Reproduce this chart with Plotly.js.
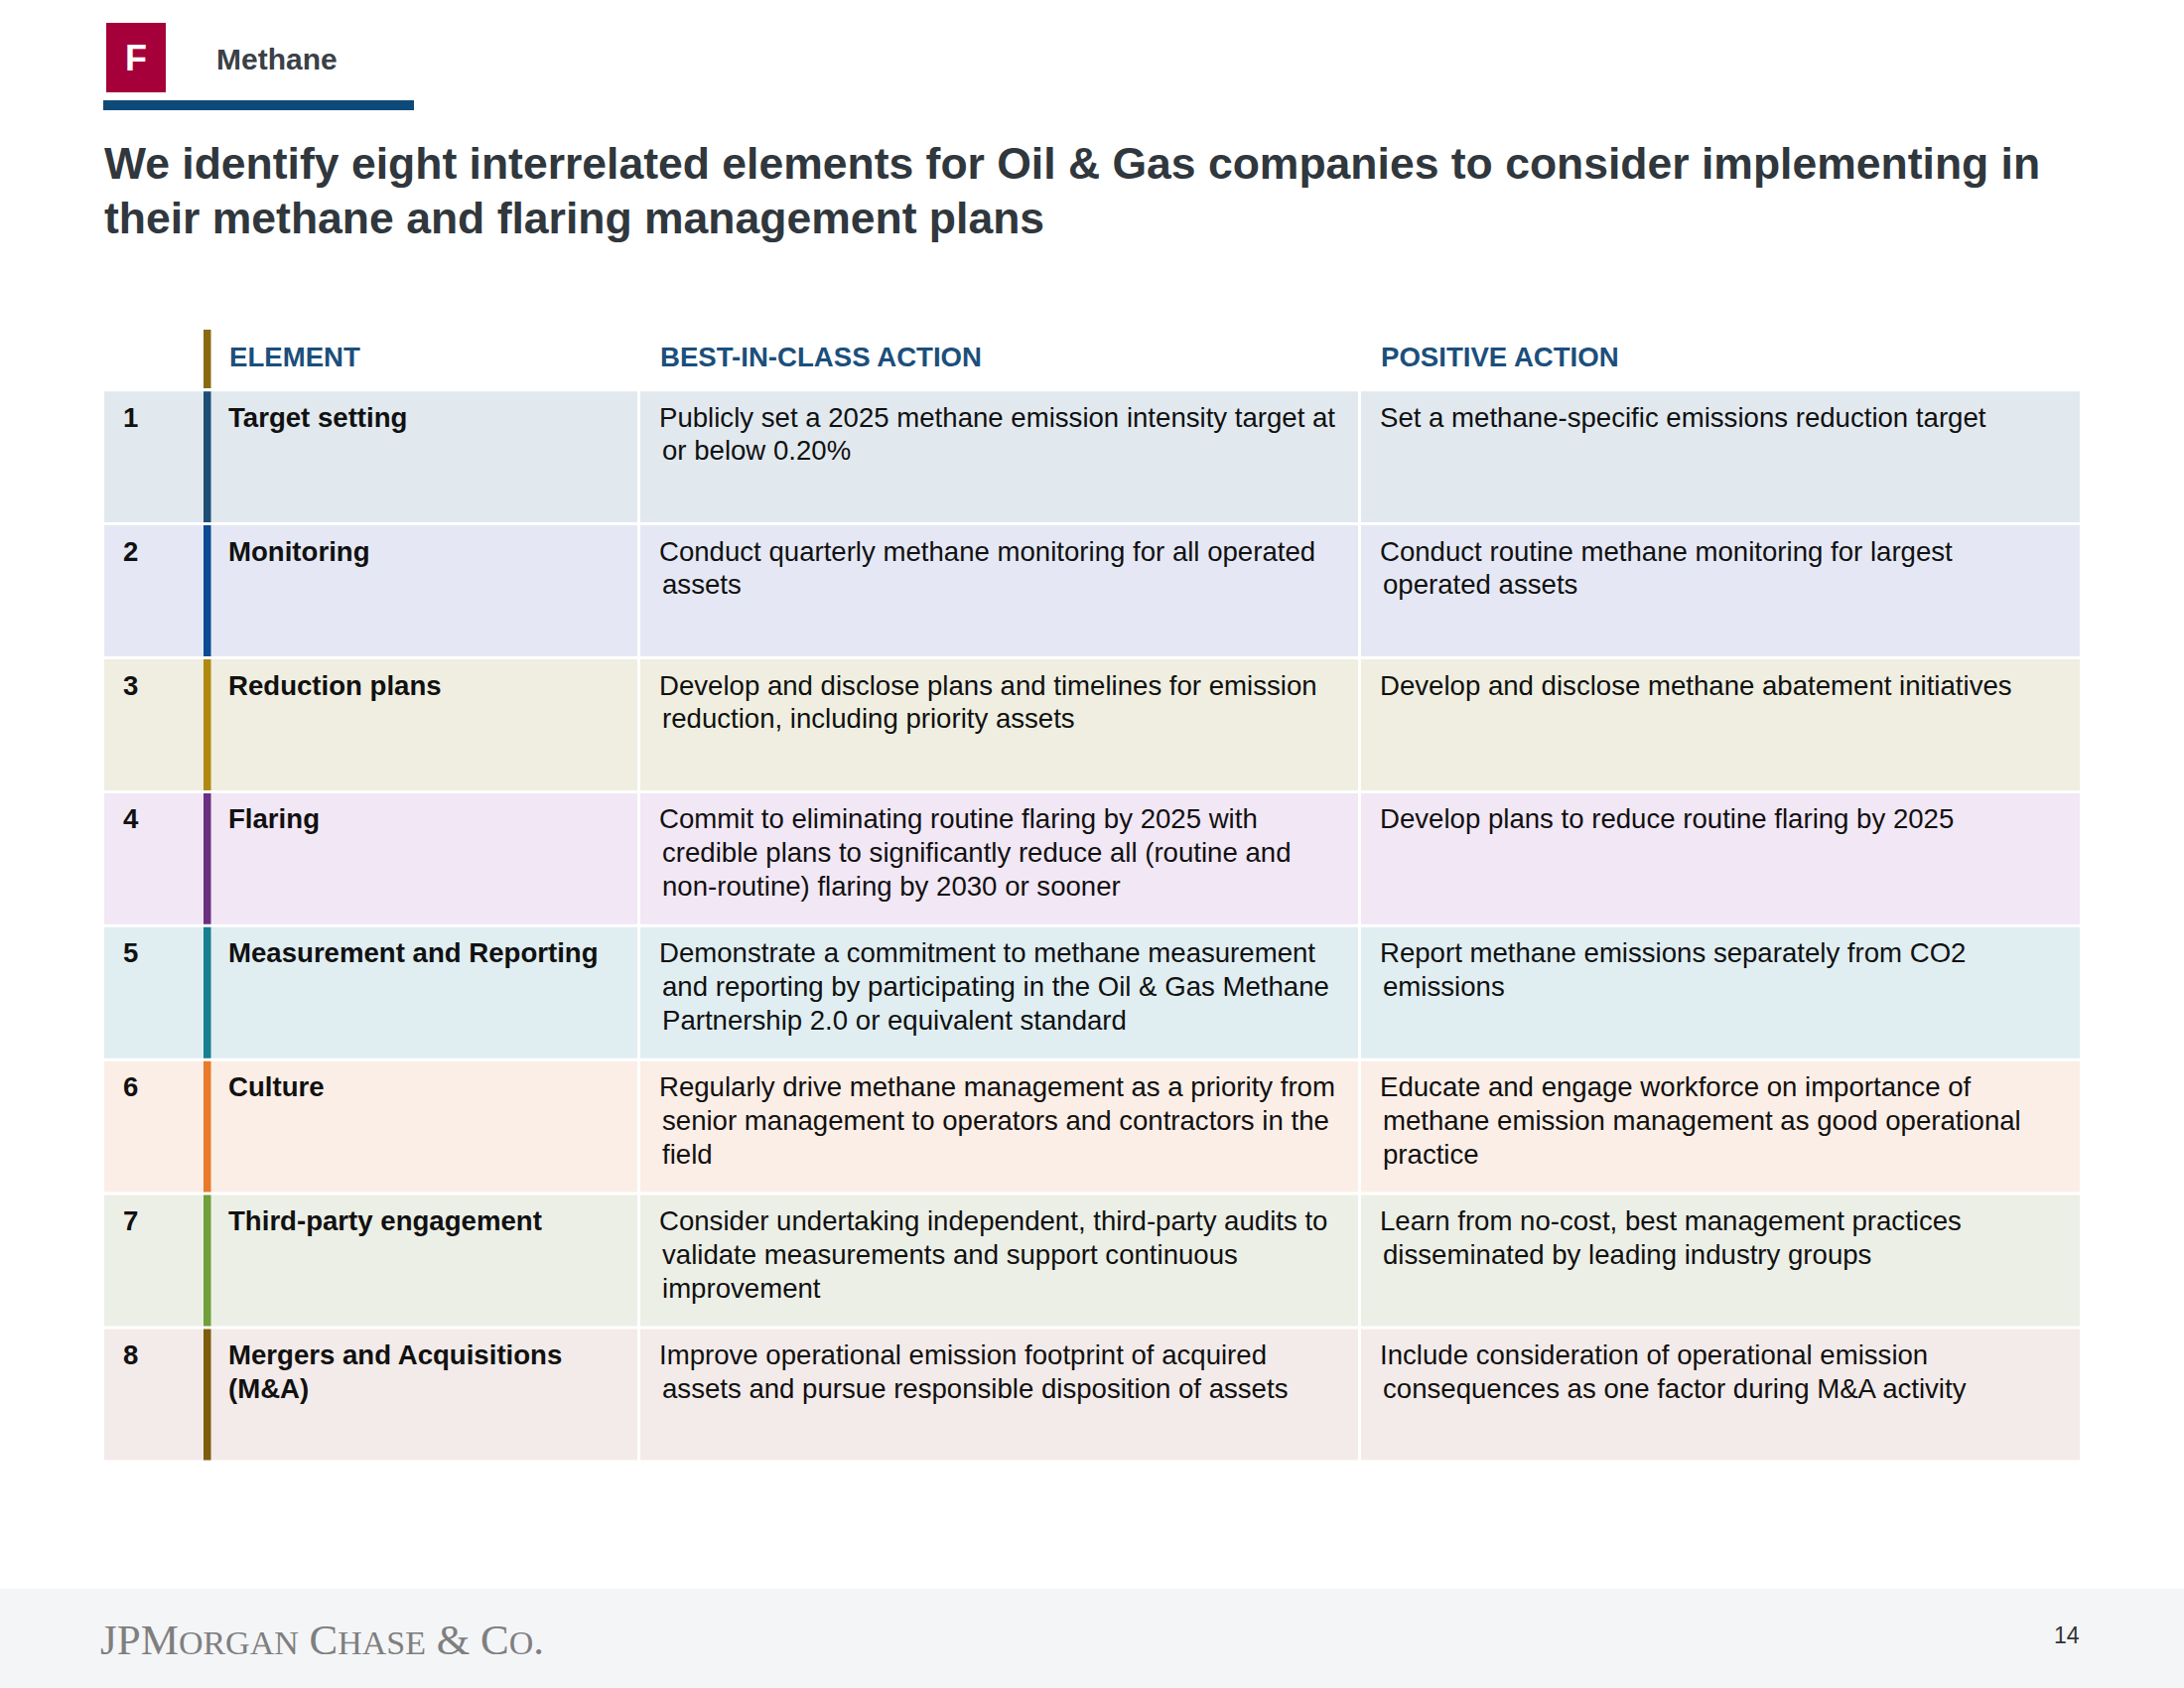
<!DOCTYPE html>
<html>
<head>
<meta charset="utf-8">
<script src="https://cdn.plot.ly/plotly-3.0.1.min.js"></script>
<style>html,body{margin:0;padding:0;background:#fff;}#chart{width:2200px;height:1700px;}</style>
</head>
<body>
<div id="chart"></div>
<script>
// ---------------- DATA ----------------
const sectionLetter = 'F';
const sectionName = 'Methane';
const titleLines = [
  'We identify eight interrelated elements for Oil & Gas companies to consider implementing in',
  'their methane and flaring management plans'
];
const headers = ['ELEMENT', 'BEST-IN-CLASS ACTION', 'POSITIVE ACTION'];
const rowNumbers = ['1', '2', '3', '4', '5', '6', '7', '8'];
const elements = [
  'Target setting',
  'Monitoring',
  'Reduction plans',
  'Flaring',
  'Measurement and Reporting',
  'Culture',
  'Third-party engagement',
  'Mergers and Acquisitions<br>(M&A)'
];
const bestActions = [
  'Publicly set a 2025 methane emission intensity target at<br>or below 0.20%',
  'Conduct quarterly methane monitoring for all operated<br>assets',
  'Develop and disclose plans and timelines for emission<br>reduction, including priority assets',
  'Commit to eliminating routine flaring by 2025 with<br>credible plans to significantly reduce all (routine and<br>non-routine) flaring by 2030 or sooner',
  'Demonstrate a commitment to methane measurement<br>and reporting by participating in the Oil & Gas Methane<br>Partnership 2.0 or equivalent standard',
  'Regularly drive methane management as a priority from<br>senior management to operators and contractors in the<br>field',
  'Consider undertaking independent, third-party audits to<br>validate measurements and support continuous<br>improvement',
  'Improve operational emission footprint of acquired<br>assets and pursue responsible disposition of assets'
];
const positiveActions = [
  'Set a methane-specific emissions reduction target',
  'Conduct routine methane monitoring for largest<br>operated assets',
  'Develop and disclose methane abatement initiatives',
  'Develop plans to reduce routine flaring by 2025',
  'Report methane emissions separately from CO2<br>emissions',
  'Educate and engage workforce on importance of<br>methane emission management as good operational<br>practice',
  'Learn from no-cost, best management practices<br>disseminated by leading industry groups',
  'Include consideration of operational emission<br>consequences as one factor during M&A activity'
];
const pageNumber = '14';

// ---------------- STYLES ----------------
const rowFill = ['#e1e9ef', '#e5e8f4', '#efeee0', '#f2e7f5', '#e0eef2', '#fbeee6', '#ecefe6', '#f3ebe9'];
const rowAccent = ['#1d4e74', '#0b4a94', '#b08a10', '#6b3080', '#168090', '#e87a2a', '#6fa03c', '#7e5c0e'];
const headerAccent = '#8a6a10';
const SANS = 'Liberation Sans, Arial, Helvetica, sans-serif';
const SERIF = 'Liberation Serif, Times New Roman, serif';
const BODY = 27.6;

// geometry (px), pixel-based x axis, row-based y axis
const W = 2200, H = 1700;
const ROW_TOP = 392.7, ROW_PX = 134.9, GAP = 3;
const col = {
  left: {x0: 105, x1: 642},
  best: {x0: 645, x1: 1368},
  pos: {x0: 1371, x1: 2095},
  accent: {x0: 205, x1: 212.5}
};
const textX = {num: 122, elem: 228, best: 662, pos: 1388};
const WRAP_INDENT = 3;
const LINE_OFF = 27.5, LINE_SP = 33.7;
const py = p => (p - ROW_TOP) / ROW_PX;   // pixel -> row units

const centers = rowNumbers.map((_, i) => i + 0.5);
const barW = (ROW_PX - GAP) / ROW_PX;

function cellTrace(c, colors) {
  return {
    type: 'bar', orientation: 'h',
    y: centers,
    x: centers.map(() => c.x1 - c.x0),
    base: centers.map(() => c.x0),
    width: centers.map(() => barW),
    marker: {color: colors, line: {width: 0}},
    hoverinfo: 'skip', showlegend: false
  };
}

const traces = [
  cellTrace(col.left, rowFill),
  cellTrace(col.best, rowFill),
  cellTrace(col.pos, rowFill),
  cellTrace(col.accent, rowAccent),
  {
    type: 'bar', orientation: 'h',
    y: [(py(332) + py(391)) / 2], x: [col.accent.x1 - col.accent.x0], base: [col.accent.x0],
    width: [py(391) - py(332)],
    marker: {color: headerAccent, line: {width: 0}},
    hoverinfo: 'skip', showlegend: false
  }
];

const annotations = [];
function addCellText(str, x, row, bold, indent) {
  str.split('<br>').forEach((line, k) => {
    annotations.push({
      xref: 'x', yref: 'y', x: x + (k > 0 ? indent : 0), y: row + (LINE_OFF + k * LINE_SP) / ROW_PX,
      xanchor: 'left', yanchor: 'middle', align: 'left', showarrow: false,
      text: bold ? '<b>' + line + '</b>' : line,
      font: {family: SANS, size: BODY, color: '#111111'}
    });
  });
}
rowNumbers.forEach((n, i) => {
  addCellText(n, textX.num, i, true, 0);
  addCellText(elements[i], textX.elem, i, true, 0);
  addCellText(bestActions[i], textX.best, i, false, WRAP_INDENT);
  addCellText(positiveActions[i], textX.pos, i, false, WRAP_INDENT);
});
[textX.elem, textX.best, textX.pos].forEach((x, j) => {
  annotations.push({
    xref: 'x', yref: 'y', x: x + 1, y: py(359), xanchor: 'left', yanchor: 'middle', showarrow: false,
    text: '<b>' + headers[j] + '</b>', font: {family: SANS, size: BODY, color: '#1b4f7c'}
  });
});
// page header
annotations.push({
  xref: 'x', yref: 'y', x: 137, y: py(58), xanchor: 'center', yanchor: 'middle', showarrow: false,
  text: '<b>' + sectionLetter + '</b>', font: {family: SANS, size: 36, color: '#ffffff'}
});
annotations.push({
  xref: 'x', yref: 'y', x: 216, y: py(59), xanchor: 'left', yanchor: 'middle', showarrow: false,
  text: '<b>' + sectionName + '</b>', font: {family: SANS, size: 30, color: '#3a4046'}
});
titleLines.forEach((t, k) => {
  annotations.push({
    xref: 'x', yref: 'y', x: 103, y: py(164 + k * 55), xanchor: 'left', yanchor: 'middle', showarrow: false,
    text: '<b>' + t + '</b>', font: {family: SANS, size: 44.5, color: '#30373d'}
  });
});
// footer
const sc = s => '<span style="font-size:34px">' + s + '</span>';
annotations.push({
  xref: 'x', yref: 'y', x: 99, y: py(1651), xanchor: 'left', yanchor: 'middle', showarrow: false,
  text: 'JPM' + sc('ORGAN') + ' C' + sc('HASE') + ' &amp; C' + sc('O') + '.',
  font: {family: SERIF, size: 43, color: '#7f7f7f'}
});
annotations.push({
  xref: 'x', yref: 'y', x: 2097, y: py(1647), xanchor: 'right', yanchor: 'middle', showarrow: false,
  text: pageNumber, font: {family: SANS, size: 23, color: '#333333'}
});

const shapes = [
  {type: 'rect', xref: 'paper', yref: 'paper', x0: 0, x1: 1, y0: 0, y1: 100 / H,
   fillcolor: '#f4f5f7', line: {width: 0}, layer: 'below'},
  {type: 'rect', xref: 'x', yref: 'y', x0: 107, x1: 167, y0: py(23), y1: py(93),
   fillcolor: '#a6003a', line: {width: 0}, layer: 'below'},
  {type: 'rect', xref: 'x', yref: 'y', x0: 104, x1: 417, y0: py(101), y1: py(111),
   fillcolor: '#0d4a78', line: {width: 0}, layer: 'below'}
];

const layout = {
  width: W, height: H,
  margin: {l: 0, r: 0, t: 0, b: 0, pad: 0},
  paper_bgcolor: '#ffffff', plot_bgcolor: 'rgba(0,0,0,0)',
  barmode: 'overlay', showlegend: false,
  xaxis: {range: [0, W], visible: false, fixedrange: true, showgrid: false, zeroline: false},
  yaxis: {range: [py(H), py(0)], visible: false, fixedrange: true, showgrid: false, zeroline: false},
  shapes: shapes,
  annotations: annotations
};

Plotly.newPlot('chart', traces, layout, {displayModeBar: false, staticPlot: true});
</script>
</body>
</html>
